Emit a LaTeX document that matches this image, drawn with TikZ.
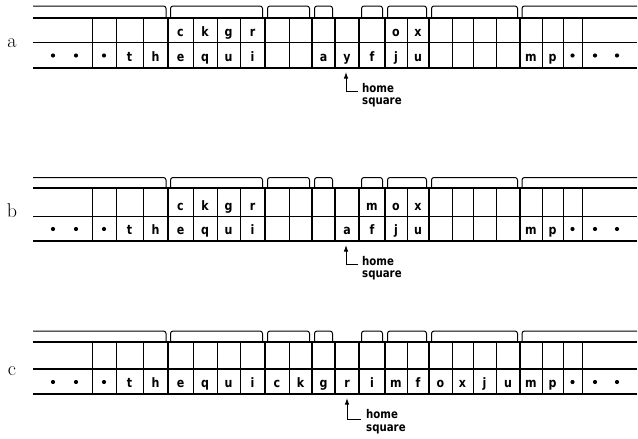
\documentclass[tikz,border=0pt]{standalone}
\usepackage{fontspec}
\newfontfamily\lett[FakeStretch=0.85]{DejaVu Sans}
\usetikzlibrary{arrows.meta}
\newcommand\drawtape[4]{% #1 bracket line, #2 top, #3 middle, #4 bottom
  \draw[hthick] (33,#2) -- (637,#2);
  \draw[hthick] (33,#4) -- (637,#4);
  \draw[hmid] (33,#3) -- (637,#3);
  \foreach \xx in {92,116,143,193,217,240,289,407,452,473,496,542,563,582}
    \draw[vthin] (\xx,#2) -- (\xx,#4);
  \foreach \xx in {168,265,312,335,359,385,429,520}
    \draw[vthick] (\xx,#2) -- (\xx,#4);
  \draw[brk] (33,#1) -- (166,#1) -- (166,#2);
  \foreach \xa/\xb in {168/265,265/312,312/335,359/385,385/429,429/520}
    \draw[brk] (\xa+2.5,#2) -- (\xa+2.5,#1) -- (\xb-2.5,#1) -- (\xb-2.5,#2);
  \draw[brk] (522,#2) -- (522,#1) -- (637,#1);
}
\begin{document}
\begin{tikzpicture}[x=1pt,y=-1pt,
  hthick/.style={line width=1.9pt},
  hmid/.style={line width=1.1pt},
  vthin/.style={line width=0.9pt},
  vthick/.style={line width=1.9pt},
  brk/.style={line width=1.0pt, rounded corners=2.5pt},
  let/.style={font=\lett\bfseries\fontsize{13}{13}\selectfont, anchor=base, inner sep=0pt},
  dotn/.style={circle, fill, inner sep=0pt, minimum size=4.2pt},
  rowlab/.style={font=\fontsize{20}{20}\selectfont, anchor=base, inner sep=0pt},
  hs/.style={font=\lett\bfseries\fontsize{12}{12}\selectfont, anchor=base west, inner sep=0pt},
  ptr/.style={line width=0.9pt, {Latex[length=6.5pt,width=4.5pt]}-}
]
\useasboundingbox (0,0) rectangle (638,439);

% ---------------- row a ----------------
\drawtape{6}{18}{42.5}{68}
\node[rowlab] (la) at (12,47) {a};
\foreach \x/\l [count=\i] in {180.5/c,205/k,228.5/g,252.5/r,396/o,418/x}
  \node[let] (at\i) at (\x,36.5) {\l};
\foreach \x/\l [count=\i] in {129.5/t,155.5/h,180.5/e,205/q,228.5/u,252.5/i,323.5/a,347/y,372/f,396/j,418/u,531/m,552.5/p}
  \node[let] (ab\i) at (\x,61.5) {\l};
\foreach \x [count=\i] in {53,76,104,572.5,595,617}
  \node[dotn] (ad\i) at (\x,55.5) {};
\node[hs] (homeA) at (362,92) {home};
\node[hs] (sqA) at (362,104) {square};
\coordinate (tipA) at (346,72);
\coordinate (endA) at (358,91);
\draw[ptr] (tipA) |- (endA);

% ---------------- row b ----------------
\drawtape{177.5}{188}{216.5}{241}
\node[rowlab] (lb) at (12,217.5) {b};
\foreach \x/\l [count=\i] in {180.5/c,205/k,228.5/g,252.5/r,372/m,396/o,418/x}
  \node[let] (bt\i) at (\x,210.5) {\l};
\foreach \x/\l [count=\i] in {129.5/t,155.5/h,180.5/e,205/q,228.5/u,252.5/i,347/a,372/f,396/j,418/u,531/m,552.5/p}
  \node[let] (bb\i) at (\x,234.5) {\l};
\foreach \x [count=\i] in {53,76,104,572.5,595,617}
  \node[dotn] (bd\i) at (\x,229) {};
\node[hs] (homeB) at (362,265) {home};
\node[hs] (sqB) at (362,277) {square};
\coordinate (tipB) at (346,245);
\coordinate (endB) at (358,264);
\draw[ptr] (tipB) |- (endB);

% ---------------- row c ----------------
\drawtape{331}{342}{369}{394}
\node[rowlab] (lc) at (12,375) {c};
\foreach \x/\l [count=\i] in {129.5/t,155.5/h,180.5/e,205/q,228.5/u,252.5/i,277/c,300.5/k,323.5/g,347/r,372/i,396/m,418/f,440.5/o,462.5/x,484.5/j,508/u,531/m,552.5/p}
  \node[let] (cb\i) at (\x,387.5) {\l};
\foreach \x [count=\i] in {53,76,104,572.5,595,617}
  \node[dotn] (cd\i) at (\x,382) {};
\node[hs] (homeC) at (366,418) {home};
\node[hs] (sqC) at (366,431) {square};
\coordinate (tipC) at (347,398);
\coordinate (endC) at (361,419);
\draw[ptr] (tipC) |- (endC);
\end{tikzpicture}
\end{document}
